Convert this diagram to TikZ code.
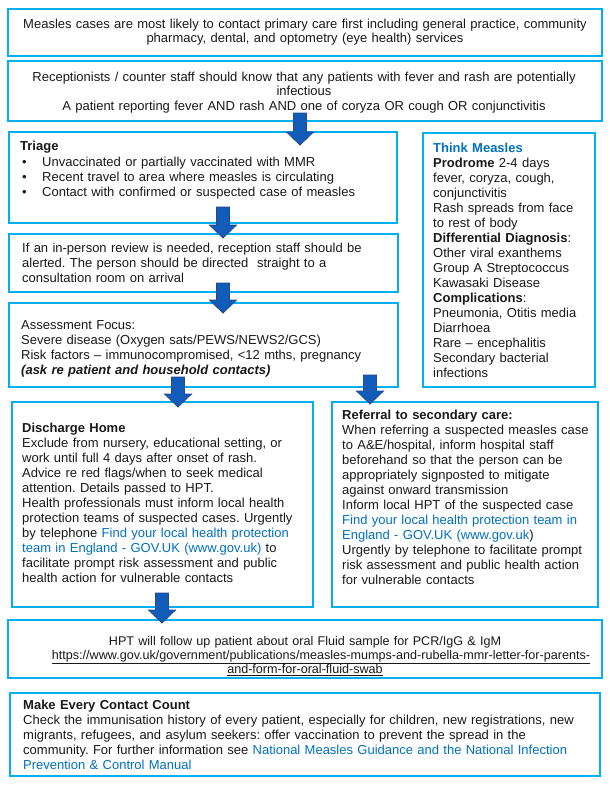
\documentclass[tikz,border=0pt]{standalone}
\usepackage{fontspec}
\setmainfont{Liberation Sans}
\usetikzlibrary{calc}
\definecolor{boxblue}{RGB}{0,176,240}
\definecolor{arrfill}{RGB}{16,92,184}
\definecolor{arrline}{RGB}{40,72,140}
\definecolor{linkblue}{RGB}{0,112,192}
\definecolor{txt}{RGB}{25,25,25}
\newcommand{\lnk}[1]{\textcolor{linkblue}{#1}}
\frenchspacing
\begin{document}
\begin{tikzpicture}[x=1pt,y=-1pt,
  box/.style={draw=boxblue, line width=2.6pt, fill=white, anchor=north west, inner sep=0pt, outer sep=0pt},
  ltext/.style={anchor=base west, inner sep=0pt, align=left, text width=580pt, text=txt, font=\fontsize{13}{15}\selectfont},
  ctext/.style={anchor=base, inner sep=0pt, align=center, text width=600pt, text=txt, font=\fontsize{13}{14.5}\selectfont},
  blockarrow/.style={fill=arrfill, draw=arrline, line width=0.8pt}]
\useasboundingbox (0,0) rectangle (610,788);
\fill[white] (0,0) rectangle (610,788);

% boxes
\node[box, minimum width=594pt, minimum height=47pt] (b1) at (8,9) {};
\node[box, minimum width=594pt, minimum height=60pt] (b2) at (8,61) {};
\node[box, minimum width=388pt, minimum height=91pt] (tri) at (9,132) {};
\node[box, minimum width=172pt, minimum height=254pt] (think) at (423,133) {};
\node[box, minimum width=389pt, minimum height=58pt] (rev) at (9,234) {};
\node[box, minimum width=389pt, minimum height=84pt] (ass) at (9,303) {};
\node[box, minimum width=301pt, minimum height=205pt] (dis) at (12,402) {};
\node[box, minimum width=266pt, minimum height=205pt] (ref) at (332,402) {};
\node[box, minimum width=594pt, minimum height=58pt] (hpt) at (8,620) {};
\node[box, minimum width=590pt, minimum height=83pt] (mecc) at (10,693) {};

% texts
\node[ctext] (t1) at (305,28) {Measles cases are most likely to contact primary care first including general practice, community\\pharmacy, dental, and optometry (eye health) services};
\node[ctext] (t2) at (304,81) {Receptionists / counter staff should know that any patients with fever and rash are potentially\\infectious\\A patient reporting fever AND rash AND one of coryza OR cough OR conjunctivitis};

\node[ltext] (ttri) at (20,150) {\textbf{Triage}};
\node[ltext] (tb1) at (22,166) {\textbullet};
\node[ltext] (tb2) at (22,181) {\textbullet};
\node[ltext] (tb3) at (22,196) {\textbullet};
\node[ltext] (tt1) at (42,166) {Unvaccinated or partially vaccinated with MMR};
\node[ltext] (tt2) at (42,181) {Recent travel to area where measles is circulating};
\node[ltext] (tt3) at (42,196) {Contact with confirmed or suspected case of measles};

\node[ltext] (tthink) at (433,152) {\textcolor{linkblue}{\textbf{Think Measles}}\\
\textbf{Prodrome} 2-4 days\\
fever, coryza, cough,\\
conjunctivitis\\
Rash spreads from face\\
to rest of body\\
\textbf{Differential Diagnosis}:\\
Other viral exanthems\\
Group A Streptococcus\\
Kawasaki Disease\\
\textbf{Complications}:\\
Pneumonia, Otitis media\\
Diarrhoea\\
Rare – encephalitis\\
Secondary bacterial\\
infections};

\node[ltext] (trev) at (22,252) {If an in-person review is needed, reception staff should be\\
alerted. The person should be directed\ \ straight to a\\
consultation room on arrival};

\node[ltext] (tass) at (21,329) {Assessment Focus:\\
Severe disease (Oxygen sats/PEWS/NEWS2/GCS)\\
Risk factors – immunocompromised, <12 mths, pregnancy\\
\textbf{\textit{(ask re patient and household contacts)}}};

\node[ltext] (tdis) at (22,432) {\textbf{Discharge Home}\\
Exclude from nursery, educational setting, or\\
work until full 4 days after onset of rash.\\
Advice re red flags/when to seek medical\\
attention. Details passed to HPT.\\
Health professionals must inform local health\\
protection teams of suspected cases. Urgently\\
by telephone \lnk{Find your local health protection}\\
\lnk{team in England - GOV.UK (www.gov.uk)} to\\
facilitate prompt risk assessment and public\\
health action for vulnerable contacts};

\node[ltext] (tref) at (342,419) {\textbf{Referral to secondary care:}\\
When referring a suspected measles case\\
to A\&E/hospital, inform hospital staff\\
beforehand so that the person can be\\
appropriately signposted to mitigate\\
against onward transmission\\
Inform local HPT of the suspected case\\
\lnk{Find your local health protection team in}\\
\lnk{England - GOV.UK (www.gov.uk})\\
Urgently by telephone to facilitate prompt\\
risk assessment and public health action\\
for vulnerable contacts};

\node[ctext, font=\fontsize{12.6}{14.3}\selectfont] (thpt) at (305,645) {HPT will follow up patient about oral Fluid sample for PCR/IgG \& IgM\\
\hspace*{32pt}\underline{https://www.gov.uk/government/publications/measles-mumps-and-rubella-mmr-letter-for-parents-}\\
\underline{and-form-for-oral-fluid-swab}};

\begin{scope}
\clip (12,695) rectangle (598,771);
\node[ltext, font=\fontsize{13}{15}\selectfont] (tmecc) at (23,709) {\textbf{Make Every Contact Count}\\
Check the immunisation history of every patient, especially for children, new registrations, new\\
migrants, refugees, and asylum seekers: offer vaccination to prevent the spread in the\\
community. For further information see \lnk{National Measles Guidance and the National Infection}\\
\lnk{Prevention \& Control Manual}};
\end{scope}
\draw[draw=boxblue, line width=2.6pt] (mecc.north west) rectangle (mecc.south east);

% arrows (start/end coordinates)
\coordinate (a1s) at (300,113); \coordinate (a1e) at (300,145);
\coordinate (a2s) at (223,207); \coordinate (a2e) at (223,238);
\coordinate (a3s) at (223,283); \coordinate (a3e) at (223,313);
\coordinate (a4s) at (178,377); \coordinate (a4e) at (178,407);
\coordinate (a5s) at (370,375); \coordinate (a5e) at (370,404);
\coordinate (a6s) at (162,593); \coordinate (a6e) at (162,623);
\foreach \s/\e in {a1s/a1e,a2s/a2e,a3s/a3e,a4s/a4e,a5s/a5e,a6s/a6e}{
  \path[blockarrow] let \p1=(\s), \p2=(\e) in
    (\x1-6.5pt,\y1) -- (\x1+6.5pt,\y1) -- (\x1+6.5pt,\y2+13pt) -- (\x1+13.5pt,\y2+13pt)
    -- (\x1,\y2) -- (\x1-13.5pt,\y2+13pt) -- (\x1-6.5pt,\y2+13pt) -- cycle;
}
\end{tikzpicture}
\end{document}
